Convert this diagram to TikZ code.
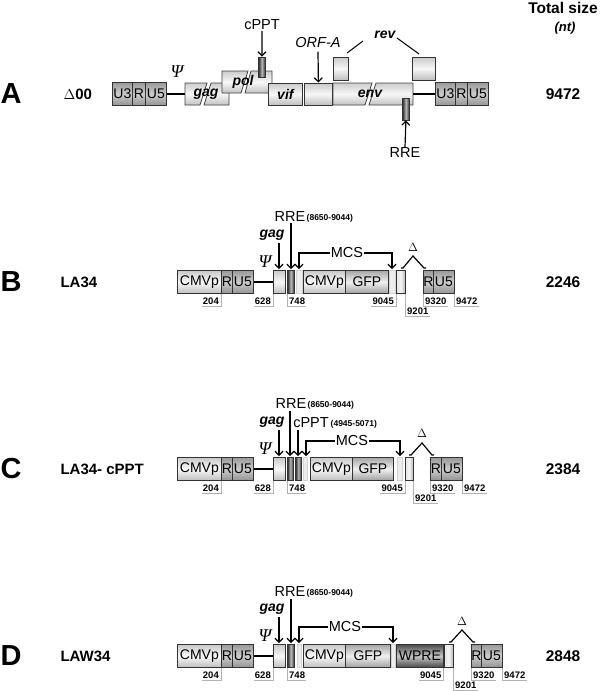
\documentclass[tikz,border=0pt]{standalone}
\usepackage{fontspec}
\setmainfont{Liberation Sans}
\newfontfamily\psifont{Liberation Serif}
\usetikzlibrary{arrows.meta}
\newcommand\nL[4]{\node[numtxt, anchor=south east] (#1) at (#2-1,#3+12.5) {#4};
  \draw[tick] (#2,#3) -- (#2,#3+12.5) -- (#1.south west);}
\newcommand\nR[4]{\node[numtxt, anchor=south west] (#1) at (#2+1,#3+12.5) {#4};
  \draw[tick] (#2,#3) -- (#2,#3+12.5) -- (#1.south east);}
\newcommand\nRlow[4]{\node[numtxt, anchor=south west] (#1) at (#2+1,#3+22.5) {#4};
  \draw[tick] (#2,#3) -- (#2,#3+22.5) -- (#1.south east);}
\begin{document}
\begin{tikzpicture}[x=1pt,y=-1pt,
  bx/.style={draw=black!80, line width=0.8pt, inner sep=0pt, anchor=west, minimum height=23pt, font=\fontsize{14}{14}\selectfont},
  lbox/.style={bx, top color=gray!42, bottom color=gray!50, middle color=gray!6},
  dbox/.style={bx, top color=gray!80, bottom color=gray!85, middle color=gray!40},
  gfpbox/.style={bx, top color=gray!70, bottom color=gray!75, middle color=gray!12},
  wprebox/.style={bx, top color=black!70, bottom color=black!72, middle color=gray!45},
  rrebox/.style={bx, left color=black!85, right color=black!85, middle color=gray!55},
  hbox/.style={bx, left color=gray!20, right color=gray!60, middle color=gray!10},
  thinbox/.style={bx, draw=gray!35, line width=0.4pt, fill=gray!14},
  abox/.style={draw=black!75, line width=0.8pt, top color=gray!40, bottom color=gray!48, middle color=gray!6},
  numtxt/.style={font=\bfseries\fontsize{9.5}{9.5}\selectfont, inner sep=1pt},
  tick/.style={draw=gray!60, line width=0.5pt},
  letter/.style={font=\bfseries\fontsize{29}{29}\selectfont},
  rowname/.style={font=\bfseries\fontsize{15}{15}\selectfont, anchor=west},
  total/.style={font=\bfseries\fontsize{15.5}{15.5}\selectfont},
  lbl/.style={font=\fontsize{14.5}{14.5}\selectfont, inner sep=0.5pt},
  small/.style={font=\bfseries\fontsize{8.5}{8.5}\selectfont, inner sep=0.5pt},
  itl/.style={font=\bfseries\itshape\fontsize{14}{14}\selectfont, inner sep=0.5pt},
  psi/.style={font=\psifont\itshape\fontsize{18}{18}\selectfont},
  arr/.style={-{Straight Barb[length=4pt,width=8pt]}, line width=1.2pt},
  bar/.style={line width=2.4pt},
  caret/.style={line width=1.2pt, line join=miter}]
\useasboundingbox (0,0) rectangle (600,691);

% header
\node[total] (ts) at (563,8) {Total size};
\node[font=\bfseries\itshape\fontsize{13}{13}\selectfont] (nt) at (565,28) {(nt)};

% ================= Row A =================
\node[letter] (LA) at (11,94) {A};
\node[rowname] (nA) at (60,94) {$\Delta$00};
\node[dbox, minimum width=20pt] (aU3) at (112,94) {U3};
\node[dbox, minimum width=13pt] (aR) at (132,94) {R};
\node[dbox, minimum width=21pt] (aU5) at (145,94) {U5};
\coordinate (aL1) at (185,94);
\draw[bar] (aU5.east) -- (aL1);
\node[psi] (apsi) at (177,72) {Ψ};
% gag
\draw[abox] (185,83) -- (207,83) -- (200,105) -- (185,105) -- cycle;
\draw[abox] (211,83) -- (229,83) -- (229,105) -- (204,105) -- cycle;
\node[itl] (agag) at (206,94) {gag};
% pol
\draw[abox] (222,71) -- (248,71) -- (241,93) -- (222,93) -- cycle;
\draw[abox] (251,71) -- (272,71) -- (272,93) -- (245,93) -- cycle;
\node[itl] (apol) at (243,82) {pol};
\node[rrebox, minimum width=7pt, minimum height=20pt] (acppt) at (258,67) {};
\node[lbl] (acpptl) at (262,25) {cPPT};
\draw[arr] (acpptl.south) -- (acppt.north);
% vif, ORF-A
\node[lbox, minimum width=34pt, minimum height=22pt] (avif) at (268,94) {\bfseries\itshape vif};
\node[lbox, minimum width=28pt, minimum height=22pt] (aorf) at (304,94) {};
\node[font=\itshape\fontsize{14.5}{14.5}\selectfont] (aorfl) at (318,43) {ORF-A};
\draw[arr] (aorfl.south) -- (aorf.north);
% env
\draw[abox] (333,83) -- (372,83) -- (365,105) -- (333,105) -- cycle;
\draw[abox] (376,83) -- (413,83) -- (413,105) -- (369,105) -- cycle;
\node[itl] (aenv) at (370,94) {env};
% rev
\node[lbox, minimum width=15pt, minimum height=23pt] (arev1) at (333,68.5) {};
\node[lbox, minimum width=23pt, minimum height=23pt] (arev2) at (412,68.5) {};
\node[itl] (arevl) at (385,35) {rev};
\draw[line width=1pt] (347,53) -- (363,41);
\draw[line width=1pt] (397,38) -- (419,54);
% RRE
\node[rrebox, minimum width=7pt, minimum height=22pt] (arre) at (402,109) {};
\node[lbl] (arrel) at (405,153) {RRE};
\draw[arr] (arrel.north) -- (arre.south);
% right LTR
\draw[bar] (413,94) -- (435,94);
\node[dbox, minimum width=20pt] (aU3b) at (435,94) {U3};
\node[dbox, minimum width=12pt] (aRb) at (455,94) {R};
\node[dbox, minimum width=21pt] (aU5b) at (467,94) {U5};
\node[total] (tA) at (563,94) {9472};

% ================= Row B =================
\node[letter] (LB) at (11,282) {B};
\node[rowname] (nB) at (57,282) {LA34};
\node[lbox, minimum width=44pt] (bC1) at (177,282) {CMVp};
\node[dbox, minimum width=11pt] (bR) at (221,282) {R};
\node[dbox, minimum width=21pt] (bU5) at (232,282) {U5};
\node[lbox, minimum width=12pt] (bgag) at (273,282) {};
\draw[bar] (bU5.east) -- (bgag.west);
\node[rrebox, minimum width=7pt] (brre) at (287,282) {};
\node[thinbox, minimum width=6pt] (bm1) at (296,282) {};
\node[lbox, minimum width=42pt] (bC2) at (303,282) {CMVp};
\node[gfpbox, minimum width=43pt] (bgfp) at (345,282) {GFP};
\node[thinbox, minimum width=6pt] (bm2) at (389,282) {};
\node[hbox, minimum width=9pt] (bx) at (396,282) {};
\node[dbox, minimum width=10pt] (bR2) at (423,282) {R};
\node[dbox, minimum width=21pt] (bU52) at (433,282) {U5};
\node[total] (tB) at (563,282) {2246};
\node[psi] (bpsi) at (265,262) {Ψ};
\node[itl] (bgagl) at (272,235) {gag};
\draw[arr] (279,243) -- (279,269);
\node[lbl] (brrel) at (290,217) {RRE};
\node[small, anchor=west] (brren) at (306,218.5) {(8650-9044)};
\draw[arr] (brrel.south -| 291,0) -- (291,269);
\node[lbl] (bmcs) at (347,253) {MCS};
\draw[arr] (bmcs.west) -- (299,253) -- (299,269);
\draw[arr] (bmcs.east) -- (392,253) -- (392,269);
\node[font=\fontsize{13}{13}\selectfont] (bdel) at (413,247) {$\Delta$};
\draw[caret] (401,268) -- (403,268) -- (413,256) -- (424,268) -- (426,268);
\nL{b204}{221}{293.5}{204}
\nL{b628}{273}{293.5}{628}
\nR{b748}{287}{293.5}{748}
\nL{b9045}{396}{293.5}{9045}
\nRlow{b9201}{405}{293.5}{9201}
\nR{b9320}{423}{293.5}{9320}
\nR{b9472}{454}{293.5}{9472}

% ================= Row C =================
\node[letter] (LC) at (11,469) {C};
\node[rowname] (nC) at (57,469) {LA34- cPPT};
\node[lbox, minimum width=44pt] (cC1) at (177,469) {CMVp};
\node[dbox, minimum width=11pt] (cR) at (221,469) {R};
\node[dbox, minimum width=21pt] (cU5) at (232,469) {U5};
\node[lbox, minimum width=12pt] (cgag) at (273,469) {};
\draw[bar] (cU5.east) -- (cgag.west);
\node[rrebox, minimum width=6pt] (crre) at (287,469) {};
\node[rrebox, minimum width=6pt] (ccppt) at (295,469) {};
\node[thinbox, minimum width=4pt] (cm1) at (303,469) {};
\node[lbox, minimum width=42pt] (cC2) at (310,469) {CMVp};
\node[gfpbox, minimum width=41pt] (cgfp) at (352,469) {GFP};
\node[thinbox, minimum width=5pt] (cm2) at (397,469) {};
\node[hbox, minimum width=8pt] (cx) at (405,469) {};
\node[dbox, minimum width=11pt] (cR2) at (430,469) {R};
\node[dbox, minimum width=21pt] (cU52) at (441,469) {U5};
\node[total] (tC) at (563,469) {2384};
\node[psi] (cpsi) at (265,449) {Ψ};
\node[itl] (cgagl) at (272,422) {gag};
\draw[arr] (279,430) -- (279,456);
\node[lbl] (crrel) at (291,404) {RRE};
\node[small, anchor=west] (crren) at (307,405.5) {(8650-9044)};
\draw[arr] (290,411) -- (290,456);
\node[lbl] (ccpptl) at (311,423) {cPPT};
\node[small, anchor=west] (ccpptn) at (330,424.5) {(4945-5071)};
\draw[arr] (298,430) -- (298,456);
\node[lbl] (cmcs) at (352,441) {MCS};
\draw[arr] (cmcs.west) -- (306,441) -- (306,456);
\draw[arr] (cmcs.east) -- (400,441) -- (400,456);
\node[font=\fontsize{13}{13}\selectfont] (cdel) at (422,433) {$\Delta$};
\draw[caret] (409,455) -- (411,455) -- (422,443) -- (432,455) -- (434,455);
\nL{c204}{221}{480.5}{204}
\nL{c628}{273}{480.5}{628}
\nR{c748}{287}{480.5}{748}
\nL{c9045}{405}{480.5}{9045}
\nRlow{c9201}{413}{480.5}{9201}
\nR{c9320}{430}{480.5}{9320}
\nR{c9472}{462}{480.5}{9472}

% ================= Row D =================
\node[letter] (LD) at (11,656) {D};
\node[rowname] (nD) at (57,656) {LAW34};
\node[lbox, minimum width=44pt] (dC1) at (177,656) {CMVp};
\node[dbox, minimum width=11pt] (dR) at (221,656) {R};
\node[dbox, minimum width=21pt] (dU5) at (232,656) {U5};
\node[lbox, minimum width=12pt] (dgag) at (273,656) {};
\draw[bar] (dU5.east) -- (dgag.west);
\node[rrebox, minimum width=7pt] (drre) at (287,656) {};
\node[thinbox, minimum width=4pt] (dm1) at (297,656) {};
\node[lbox, minimum width=42pt] (dC2) at (303,656) {CMVp};
\node[gfpbox, minimum width=45pt] (dgfp) at (345,656) {GFP};
\node[thinbox, minimum width=4pt] (dm2) at (391,656) {};
\node[wprebox, minimum width=47pt] (dw) at (396,656) {WPRE};
\node[hbox, minimum width=9pt] (dx) at (444,656) {};
\node[dbox, minimum width=10pt] (dR2) at (471,656) {R};
\node[dbox, minimum width=21pt] (dU52) at (481,656) {U5};
\node[total] (tD) at (563,656) {2848};
\node[psi] (dpsi) at (265,636) {Ψ};
\node[itl] (dgagl) at (272,609) {gag};
\draw[arr] (279,617) -- (279,643);
\node[lbl] (drrel) at (290,592) {RRE};
\node[small, anchor=west] (drren) at (306,593.5) {(8650-9044)};
\draw[arr] (291,599) -- (291,643);
\node[lbl] (dmcs) at (345,627) {MCS};
\draw[arr] (dmcs.west) -- (299,627) -- (299,643);
\draw[arr] (dmcs.east) -- (393,627) -- (393,643);
\node[font=\fontsize{13}{13}\selectfont] (ddel) at (462,621) {$\Delta$};
\draw[caret] (449,642) -- (451,642) -- (462,630) -- (473,642) -- (475,642);
\nL{d204}{221}{667.5}{204}
\nL{d628}{273}{667.5}{628}
\nR{d748}{287}{667.5}{748}
\nL{d9045}{443.5}{667.5}{9045}
\nRlow{d9201}{453}{667.5}{9201}
\nR{d9320}{471}{667.5}{9320}
\nR{d9472}{502}{667.5}{9472}
\end{tikzpicture}
\end{document}
